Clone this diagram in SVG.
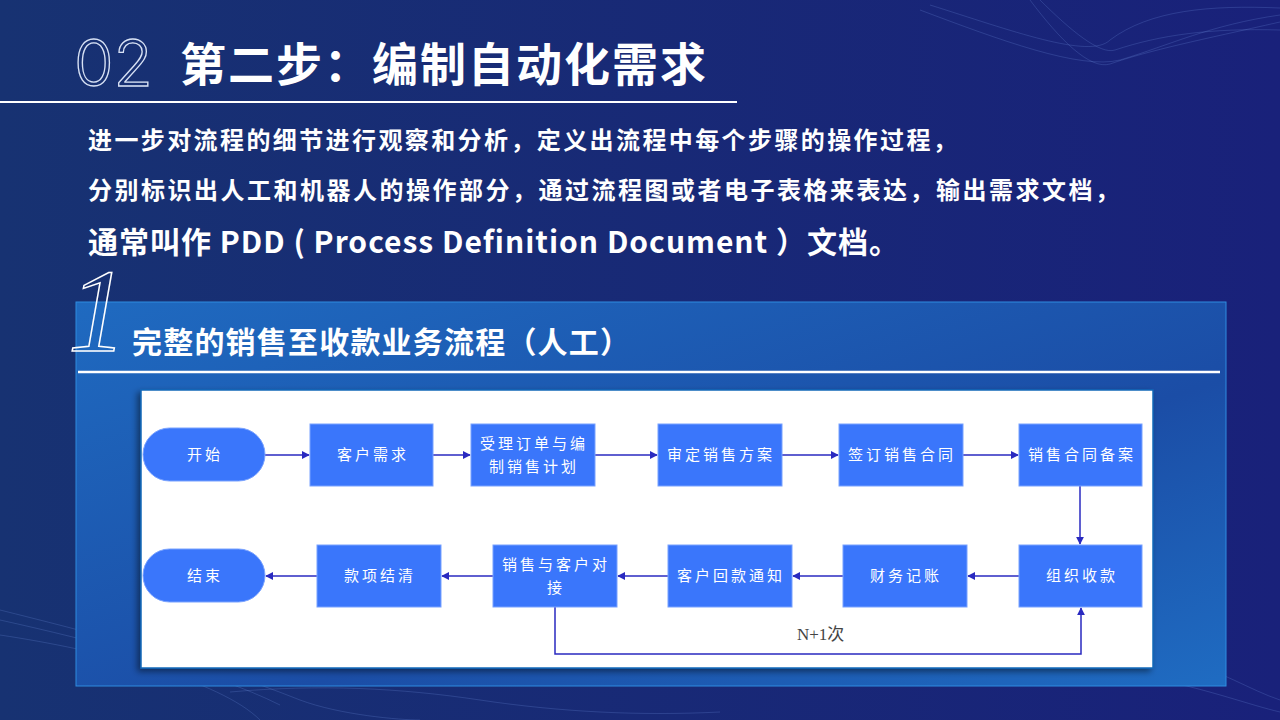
<svg xmlns="http://www.w3.org/2000/svg" width="1280" height="720" viewBox="0 0 1280 720">
<defs>
<linearGradient id="bg" x1="0" y1="0" x2="1" y2="0">
<stop offset="0" stop-color="#173272"/>
<stop offset="1" stop-color="#19217a"/>
</linearGradient>
<linearGradient id="panel" x1="0" y1="0" x2="1" y2="1">
<stop offset="0" stop-color="#1f6ac0"/>
<stop offset="0.6" stop-color="#1b4da6"/>
<stop offset="1" stop-color="#1f6cc2"/>
</linearGradient>
<marker id="arr" viewBox="0 0 10 10" refX="9" refY="5" markerWidth="8" markerHeight="8" markerUnits="userSpaceOnUse" orient="auto">
<path d="M0,0 L10,5 L0,10 z" fill="#2a2ac0"/>
</marker>
<filter id="sh" x="-5%" y="-5%" width="110%" height="110%">
<feDropShadow dx="-3" dy="3" stdDeviation="3" flood-color="#000" flood-opacity="0.45"/>
</filter>
</defs>
<style>
.ttl{font-family:"Noto Sans CJK SC","Noto Sans",sans-serif;font-weight:700;fill:#fff}
.node rect{fill:#3a76fb;stroke:#79a2ff;stroke-width:1}
.nt{font-family:"Noto Sans CJK SC","Noto Sans",sans-serif;font-size:15px;fill:#fff;text-anchor:middle;letter-spacing:3px}
.conn path{fill:none;stroke:#2a2ac0;stroke-width:1.5;marker-end:url(#arr)}
.wave{fill:none;stroke:#6f8fe0;stroke-width:0.7;opacity:0.35}
</style>
<rect width="1280" height="720" fill="url(#bg)"/>
<g id="waves">
<path class="wave" d="M920,10 C1000,40 1080,70 1120,60 C1170,45 1210,25 1280,15"/>
<path class="wave" d="M930,5 C1010,30 1090,60 1110,40 C1150,10 1210,5 1280,8"/>
<path class="wave" d="M1030,0 C1060,40 1090,70 1110,64 C1150,50 1200,40 1280,22"/>
<path class="wave" d="M1040,0 C1070,30 1100,55 1115,50 C1160,35 1210,28 1280,30"/>
<path class="wave" d="M0,610 C80,630 200,660 300,700 C340,715 400,720 420,720"/>
<path class="wave" d="M0,620 C90,640 210,670 280,705"/>
<path class="wave" d="M0,635 C100,650 220,680 260,720"/>
<path class="wave" d="M230,692 C320,684 400,688 480,700 C560,712 640,716 720,712"/>
<path class="wave" d="M1180,660 C1220,670 1250,690 1280,700"/>
<path class="wave" d="M1160,680 C1210,690 1250,705 1280,712"/>
</g>
<g id="header">
<text x="74" y="86" font-family="Inter,'Liberation Sans',sans-serif" font-size="64" font-weight="300" fill="none" stroke="#d8e2f5" stroke-width="1.3">02</text>
<text class="ttl" x="180" y="81" font-size="46" letter-spacing="2">第二步：编制自动化需求</text>
<line x1="0" y1="102" x2="737" y2="102" stroke="#fff" stroke-width="2"/>
</g>
<g id="intro" class="ttl">
<text x="88" y="149" font-size="24" letter-spacing="2.4">进一步对流程的细节进行观察和分析，定义出流程中每个步骤的操作过程，</text>
<text x="88" y="199" font-size="24" letter-spacing="2.5">分别标识出人工和机器人的操作部分，通过流程图或者电子表格来表达，输出需求文档，</text>
<text x="88" y="253" font-size="30" letter-spacing="1">通常叫作 PDD ( Process Definition Document ）文档。</text>
</g>
<g id="panel">
<rect x="76" y="302" width="1150" height="384" fill="url(#panel)" stroke="#2f8ce0" stroke-width="1"/>
<text x="68" y="351" font-family="'Liberation Serif',serif" font-style="italic" font-size="118" fill="none" stroke="#fff" stroke-width="1.5">1</text>
<text class="ttl" x="132" y="353" font-size="30" letter-spacing="1.2">完整的销售至收款业务流程（人工）</text>
<line x1="78" y1="372" x2="1220" y2="372" stroke="#fff" stroke-width="2.5"/>
<rect x="141" y="390" width="1012" height="278" fill="#fff" stroke="#1368b8" stroke-width="1.5" filter="url(#sh)"/>
</g>
<g id="connectors" class="conn">
<path d="M265,455 H309"/>
<path d="M433,455 H470"/>
<path d="M595,455 H657"/>
<path d="M782,455 H838"/>
<path d="M963,455 H1018"/>
<path d="M1080,486 V544"/>
<path d="M1019,576 H968"/>
<path d="M843,576 H793"/>
<path d="M668,576 H618"/>
<path d="M493,576 H442"/>
<path d="M317,576 H266"/>
<path d="M555,607 V654 H1081 V608"/>
<text x="797" y="640" font-family="'Liberation Serif','Noto Sans CJK SC',serif" font-size="17" fill="#444">N+1次</text>
</g>
<g id="n-start" class="node"><rect x="143" y="428" width="122" height="53" rx="26.5"/><text class="nt" x="205" y="460">开始</text></g>
<g id="n-demand" class="node"><rect x="310" y="424" width="123" height="62"/><text class="nt" x="373" y="460">客户需求</text></g>
<g id="n-order" class="node"><rect x="471" y="424" width="124" height="62"/><text class="nt" x="534" y="449">受理订单与编</text><text class="nt" x="534" y="472">制销售计划</text></g>
<g id="n-review" class="node"><rect x="658" y="424" width="124" height="62"/><text class="nt" x="721" y="460">审定销售方案</text></g>
<g id="n-sign" class="node"><rect x="839" y="424" width="124" height="62"/><text class="nt" x="902" y="460">签订销售合同</text></g>
<g id="n-file" class="node"><rect x="1019" y="424" width="123" height="62"/><text class="nt" x="1082" y="460">销售合同备案</text></g>
<g id="n-collect" class="node"><rect x="1019" y="545" width="123" height="62"/><text class="nt" x="1082" y="581">组织收款</text></g>
<g id="n-account" class="node"><rect x="843" y="545" width="124" height="62"/><text class="nt" x="906" y="581">财务记账</text></g>
<g id="n-notice" class="node"><rect x="668" y="545" width="124" height="62"/><text class="nt" x="731" y="581">客户回款通知</text></g>
<g id="n-contact" class="node"><rect x="493" y="545" width="124" height="62"/><text class="nt" x="556" y="570">销售与客户对</text><text class="nt" x="556" y="593">接</text></g>
<g id="n-settle" class="node"><rect x="317" y="545" width="124" height="62"/><text class="nt" x="380" y="581">款项结清</text></g>
<g id="n-end" class="node"><rect x="143" y="549" width="122" height="53" rx="26.5"/><text class="nt" x="205" y="581">结束</text></g>
</svg>
